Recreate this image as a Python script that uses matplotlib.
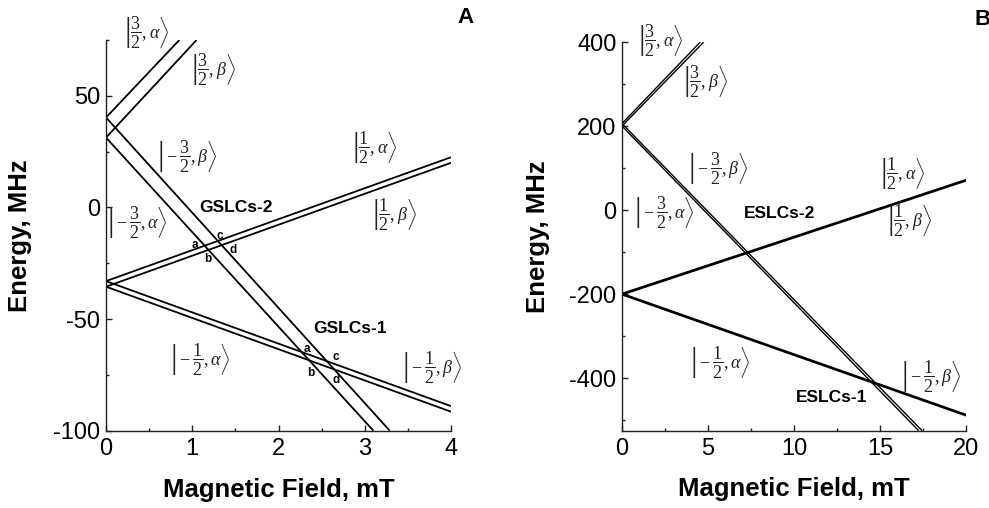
import matplotlib.pyplot as plt
from matplotlib.ticker import MultipleLocator

plt.rcParams['font.family'] = ['Liberation Sans', 'DejaVu Sans']
plt.rcParams['axes.unicode_minus'] = False
# Times-like digits for the kets, thin cm delimiters via the fallback
plt.rcParams['mathtext.fontset'] = 'custom'
plt.rcParams['mathtext.rm'] = 'Liberation Serif'
plt.rcParams['mathtext.it'] = 'Liberation Serif:italic'
plt.rcParams['mathtext.bf'] = 'Liberation Serif:bold'
plt.rcParams['mathtext.fallback'] = 'cm'

# ground state levels (panel A), energies in MHz, field in mT
gs_b0 = [40.3, 31.3, 40.3, 31.3, -33.0, -35.5, -33.0, -35.5]
gs_b_end = [0.85, 1.05, 3.29, 3.10, 4.0, 4.0, 4.0, 4.0]
gs_e_end = [75.0, 75.0, -100.0, -100.0, 22.5, 20.0, -89.0, -91.5]

# excited state levels (panel B)
es_b0 = [206.0, 200.0, 206.0, 200.0, -199.0, -201.0, -199.0, -201.0]
es_b_end = [4.55, 4.75, 17.45, 17.25, 20.0, 20.0, 20.0, 20.0]
es_e_end = [400.0, 400.0, -525.0, -525.0, 72.0, 70.0, -487.0, -489.0]

kets = [r'$\left|\dfrac{3}{2},\alpha\right\rangle$',
        r'$\left|\dfrac{3}{2},\beta\right\rangle$',
        r'$\left|-\dfrac{3}{2},\beta\right\rangle$',
        r'$\left|-\dfrac{3}{2},\alpha\right\rangle$',
        r'$\left|\dfrac{1}{2},\alpha\right\rangle$',
        r'$\left|\dfrac{1}{2},\beta\right\rangle$',
        r'$\left|-\dfrac{1}{2},\alpha\right\rangle$',
        r'$\left|-\dfrac{1}{2},\beta\right\rangle$']


def style_axes(ax, xmax, xmaj, xmin, ylim, ymaj, ymin):
    ax.set_xlim(0, xmax)
    ax.set_ylim(*ylim)
    ax.spines['top'].set_visible(False)
    ax.spines['right'].set_visible(False)
    for s in ('left', 'bottom'):
        ax.spines[s].set_linewidth(1.0)
        ax.spines[s].set_color('#222222')
    ax.xaxis.set_major_locator(MultipleLocator(xmaj))
    ax.xaxis.set_minor_locator(MultipleLocator(xmin))
    ax.yaxis.set_major_locator(MultipleLocator(ymaj))
    ax.yaxis.set_minor_locator(MultipleLocator(ymin))
    ax.tick_params(which='both', direction='in', width=1.0, color='#222222',
                   labelsize=17, top=False, right=False)
    ax.tick_params(which='major', length=4)
    ax.tick_params(which='minor', length=2.4)
    ax.tick_params(axis='x', pad=5)
    ax.tick_params(axis='y', pad=4)
    ax.set_xlabel('Magnetic Field, mT', fontsize=18.5, fontweight='bold')
    ax.set_ylabel('Energy, MHz', fontsize=18.5, fontweight='bold')
    ax.xaxis.set_label_coords(0.5, -0.12)


fig = plt.figure(figsize=(9.89, 5.08), dpi=100)
ax1 = fig.add_axes([0.1072, 0.1522, 0.3488, 0.769])
ax2 = fig.add_axes([0.6289, 0.1522, 0.3478, 0.765])

# panel A
for e0, b1, e1 in zip(gs_b0, gs_b_end, gs_e_end):
    ax1.plot([0, b1], [e0, e1], color='black', lw=1.3, solid_capstyle='butt')
style_axes(ax1, 4, 1, 0.5, (-100, 75), 50, 25)
ax1.yaxis.set_label_coords(-0.214, 0.5)

ket_a = [(0.47, 78.6), (1.25, 62), (0.94, 22.9), (0.36, -6.7),
         (3.12, 27), (3.35, -3.1), (1.09, -68), (3.78, -71.4)]
for txt, (x, y) in zip(kets, ket_a):
    ax1.text(x, y, txt, fontsize=13, ha='center', va='center', color='#222222')
ax1.text(1.51, 0, 'GSLCs-2', fontsize=12.5, fontweight='bold', ha='center', va='center')
ax1.text(2.83, -54.3, 'GSLCs-1', fontsize=12.5, fontweight='bold', ha='center', va='center')
for s, (x, y) in zip('abcd', [(1.03, -16.6), (1.18, -23.3), (1.32, -13), (1.47, -18.9)]):
    ax1.text(x, y, s, fontsize=8.5, fontweight='bold', ha='center', va='center')
for s, (x, y) in zip('abcd', [(2.33, -63.3), (2.37, -74.1), (2.66, -66.9), (2.67, -77.2)]):
    ax1.text(x, y, s, fontsize=8.5, fontweight='bold', ha='center', va='center')
ax1.text(4.17, 85, 'A', fontsize=16, fontweight='bold', ha='center', va='center')

# panel B
for i, (e0, b1, e1) in enumerate(zip(es_b0, es_b_end, es_e_end)):
    lw = 1.0 if i < 4 else 1.4
    ax2.plot([0, b1], [e0, e1], color='black', lw=lw, solid_capstyle='butt')
style_axes(ax2, 20, 5, 2.5, (-525, 400), 200, 100)
ax2.yaxis.set_label_coords(-0.209, 0.5)

ket_b = [(2.27, 404), (4.83, 307), (5.58, 100), (2.44, -5),
         (16.34, 88), (16.74, -24), (5.70, -362), (17.97, -395)]
for txt, (x, y) in zip(kets, ket_b):
    ax2.text(x, y, txt, fontsize=13, ha='center', va='center', color='#222222')
ax2.text(9.19, -7, 'ESLCs-2', fontsize=12.5, fontweight='bold', ha='center', va='center')
ax2.text(12.21, -445, 'ESLCs-1', fontsize=12.5, fontweight='bold', ha='center', va='center')
ax2.text(20.95, 454, 'B', fontsize=16, fontweight='bold', ha='center', va='center')

fig.savefig('out.png', dpi=100)
